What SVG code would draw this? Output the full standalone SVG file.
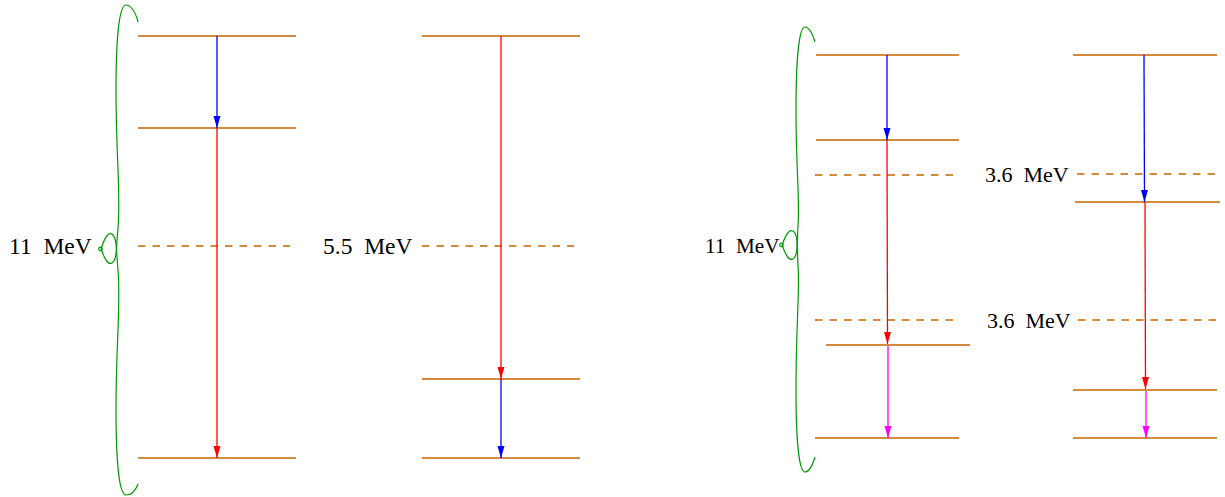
<svg xmlns="http://www.w3.org/2000/svg" width="1225" height="497" viewBox="0 0 1225 497">
<style>
.lvl{stroke:#c46400;stroke-width:1.3;fill:none}
.dash{stroke:#c46400;stroke-width:1.3;fill:none;stroke-dasharray:7.5 7}
.brace{stroke:#009a00;stroke-width:1.2;fill:none}
.lbl{font-family:"Liberation Serif","Times New Roman",serif;font-size:23.5px;fill:#000}
.lbr{font-family:"Liberation Serif","Times New Roman",serif;font-size:22px;fill:#000}
.ab{stroke:#0000ff;stroke-width:1.3;fill:none;marker-end:url(#hb)}
.ar{stroke:#ff0000;stroke-width:1.3;fill:none;marker-end:url(#hr)}
.am{stroke:#ff00ff;stroke-width:1.3;fill:none;marker-end:url(#hm)}
</style>
<defs>
<marker id="hb" markerUnits="userSpaceOnUse" viewBox="0 0 12 8" refX="12" refY="4" markerWidth="12" markerHeight="8" orient="auto"><path d="M0,0.5 L12,4 L0,7.5 z" fill="#0000ff"/></marker>
<marker id="hr" markerUnits="userSpaceOnUse" viewBox="0 0 12 8" refX="12" refY="4" markerWidth="12" markerHeight="8" orient="auto"><path d="M0,0.5 L12,4 L0,7.5 z" fill="#ff0000"/></marker>
<marker id="hm" markerUnits="userSpaceOnUse" viewBox="0 0 12 8" refX="12" refY="4" markerWidth="12" markerHeight="8" orient="auto"><path d="M0,0.5 L12,4 L0,7.5 z" fill="#ff00ff"/></marker>
</defs>
<rect width="1225" height="497" fill="#fff"/>

<g id="diagram1">
<g id="d1-l1"><line class="lvl" x1="138" y1="36" x2="296" y2="36"/></g>
<g id="d1-l2"><line class="lvl" x1="138" y1="128" x2="296" y2="128"/></g>
<g id="d1-l3"><line class="dash" x1="138" y1="246" x2="290" y2="246"/></g>
<g id="d1-l4"><line class="lvl" x1="138" y1="458" x2="296" y2="458"/></g>
<g id="d1-brace">
<path class="brace" d="M138,22 C135,10 130,5 126,5 C119,5 116,40 116,90 C116,160 121,195 118,228 C116,250 117,260 112,263 C107,266 103,254 101,249"/>
<path class="brace" d="M138,484 C135,492 130,495 126,495 C119,495 116,460 116,410 C116,340 121,305 118,270 C116,248 117,238 112,234 C107,231 103,243 101,249"/>
<circle class="brace" cx="100.5" cy="249" r="1.8" fill="#fff"/>
</g>
<text class="lbl" x="9" y="254" xml:space="preserve">11  MeV</text>
</g>

<g id="diagram2">
<g id="d2-l1"><line class="lvl" x1="422" y1="36" x2="580" y2="36"/></g>
<g id="d2-l2"><line class="dash" x1="422" y1="246" x2="574" y2="246"/></g>
<g id="d2-l3"><line class="lvl" x1="422" y1="379" x2="580" y2="379"/></g>
<g id="d2-l4"><line class="lvl" x1="422" y1="458" x2="580" y2="458"/></g>
<text class="lbl" x="323" y="254" xml:space="preserve">5.5  MeV</text>
</g>

<g id="diagram3">
<g id="d3-l1"><line class="lvl" x1="816" y1="55" x2="959" y2="55"/></g>
<g id="d3-l2"><line class="lvl" x1="816" y1="140" x2="959" y2="140"/></g>
<g id="d3-l3"><line class="dash" x1="815" y1="175" x2="955" y2="175"/></g>
<g id="d3-l4"><line class="dash" x1="815" y1="320" x2="955" y2="320"/></g>
<g id="d3-l5"><line class="lvl" x1="826" y1="345" x2="970" y2="345"/></g>
<g id="d3-l6"><line class="lvl" x1="815" y1="438" x2="959" y2="438"/></g>
<g id="d3-brace">
<path class="brace" d="M815,42 C812,32 808,27 805,27 C799,27 796,60 796,110 C796,170 800,200 798,225 C797,245 798,256 793,259 C788,262 784,250 782,245"/>
<path class="brace" d="M815,457 C812,467 808,472 805,472 C799,472 796,440 796,390 C796,320 800,290 798,265 C797,245 798,234 793,231 C788,228 784,240 782,245"/>
<circle class="brace" cx="781.5" cy="245" r="1.8" fill="#fff"/>
</g>
<text class="lbr" x="705" y="253" xml:space="preserve" style="font-size:21.2px">11  MeV</text>
</g>

<g id="diagram4">
<g id="d4-l1"><line class="lvl" x1="1073" y1="55" x2="1217" y2="55"/></g>
<g id="d4-l2"><line class="dash" x1="1077" y1="174" x2="1217" y2="174"/></g>
<g id="d4-l3"><line class="lvl" x1="1075" y1="202" x2="1220" y2="202"/></g>
<g id="d4-l4"><line class="dash" x1="1078" y1="320" x2="1218" y2="320"/></g>
<g id="d4-l5"><line class="lvl" x1="1073" y1="390" x2="1217" y2="390"/></g>
<g id="d4-l6"><line class="lvl" x1="1073" y1="438" x2="1217" y2="438"/></g>
<text class="lbr" x="985" y="182" xml:space="preserve">3.6  MeV</text>
<text class="lbr" x="987" y="328" xml:space="preserve">3.6  MeV</text>
</g>

<g id="connectors">
<line class="ab" x1="217" y1="36" x2="217" y2="128"/>
<line class="ar" x1="217" y1="128" x2="217" y2="458"/>
<line class="ar" x1="501" y1="36" x2="501" y2="379"/>
<line class="ab" x1="501" y1="379" x2="501" y2="458"/>
<line class="ab" x1="887" y1="55" x2="887" y2="140"/>
<line class="ar" x1="887" y1="140" x2="887.5" y2="344"/>
<line class="am" x1="888" y1="346" x2="888" y2="438"/>
<line class="ab" x1="1144" y1="55" x2="1144.5" y2="202"/>
<line class="ar" x1="1145" y1="202" x2="1145.5" y2="389"/>
<line class="am" x1="1146" y1="391" x2="1146" y2="438"/>
</g>
</svg>
